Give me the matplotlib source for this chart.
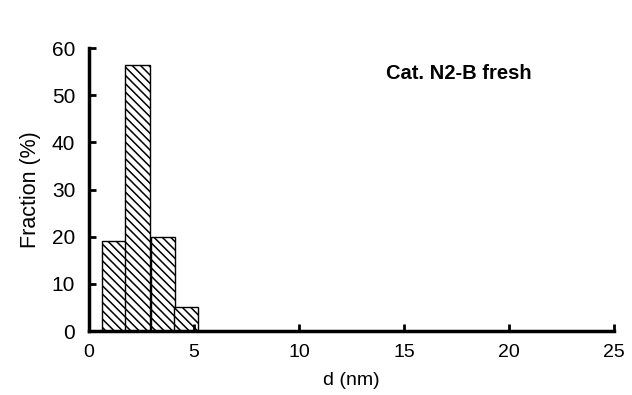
import matplotlib.pyplot as plt

# particle size distribution, Cat. N2-B fresh
centers = [1.2, 2.3, 3.5, 4.6]
fractions = [19, 56.5, 20, 5]
xticks = [0, 5, 10, 15, 20, 25]
yticks = [0, 10, 20, 30, 40, 50, 60]

plt.rcParams['font.family'] = ['Liberation Sans', 'DejaVu Sans']
plt.rcParams['hatch.linewidth'] = 1.1

fig = plt.figure(figsize=(6.32, 3.95), dpi=100)
ax = fig.add_axes([0.141, 0.162, 0.831, 0.716])

ax.bar(centers, fractions, width=1.15, color='white', edgecolor='black',
       hatch='\\\\\\\\', linewidth=1.0)

ax.set_xlim(0, 25)
ax.set_ylim(0, 60)
ax.set_xticks(xticks)
ax.set_yticks(yticks)
for s in ['top', 'right']:
    ax.spines[s].set_visible(False)
for s in ['left', 'bottom']:
    ax.spines[s].set_linewidth(2.5)
ax.tick_params(direction='in', width=2, length=5)
ax.tick_params(axis='x', labelsize=14, pad=9)
ax.tick_params(axis='y', labelsize=15, pad=10)

ax.set_xlabel('d (nm)', fontsize=14, labelpad=8)
ax.set_ylabel('Fraction (%)', fontsize=15.5, labelpad=8)
ax.text(17.6, 54.7, 'Cat. N2-B fresh', fontsize=14.5, fontweight='bold',
        ha='center', va='center')

fig.savefig('out.png', dpi=100)
